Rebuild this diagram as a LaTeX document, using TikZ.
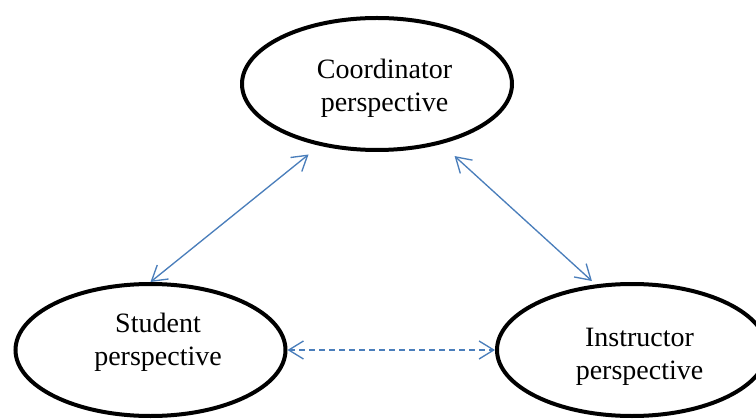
\documentclass[tikz,border=0pt]{standalone}
\usepackage{fontspec}
\setmainfont{Liberation Serif}
\usetikzlibrary{shapes.geometric,arrows.meta}
\definecolor{linkblue}{RGB}{74,126,187}

\begin{document}
\begin{tikzpicture}[x=0.75pt,y=-0.75pt,
    view/.style={ellipse, draw, line width=3pt, minimum width=202.5pt, minimum height=99pt, inner sep=0pt},
    persp/.style={align=center, font=\fontsize{21}{24.4}\selectfont, inner sep=0pt},
    link/.style={linkblue, line width=1pt,
      {Straight Barb[length=11pt,width=13.5pt]}-{Straight Barb[length=11pt,width=13.5pt]}}]
    \useasboundingbox (0,0) rectangle (756,420);

    % the three perspectives
    \node[view] (coord) at (377,84) {};
    \node[view] (stud) at (150.5,350) {};
    \node[view] (inst) at (632,350) {};

    % labels
    \node[persp] (coordtxt) at ([shift={(7.5,4.5)}]coord.center) {Coordinator\\perspective};
    \node[persp] (studtxt) at ([shift={(7.5,-8)}]stud.center) {Student\\perspective};
    \node[persp] (insttxt) at ([shift={(7.5,7)}]inst.center) {Instructor\\perspective};

    % links between them
    \draw[link, shorten >=10.5pt] (stud.north) -- (coord.227);
    \draw[link, shorten <=13.4pt, shorten >=3.8pt] (coord.317) -- (inst.119);
    \draw[link, dash pattern=on 4.5pt off 3pt] (stud.east) -- (inst.west);
\end{tikzpicture}
\end{document}
